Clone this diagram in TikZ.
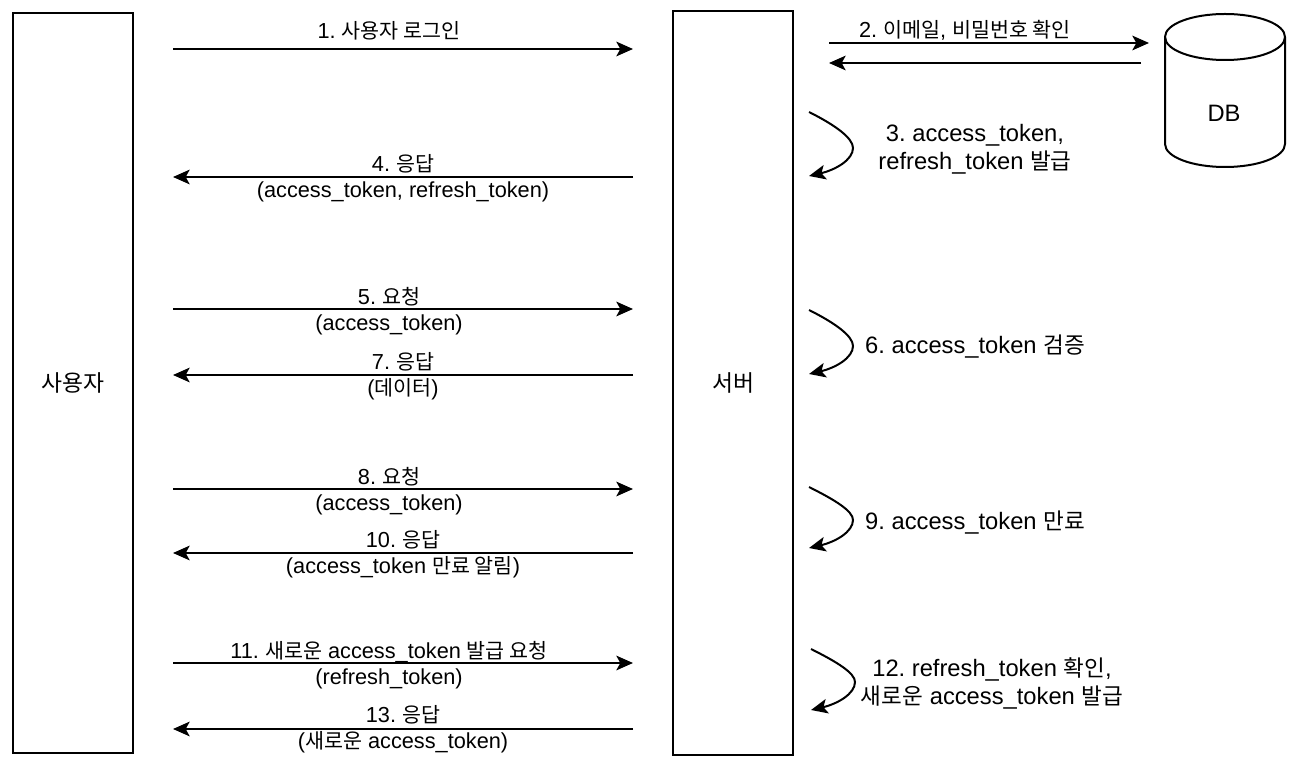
\documentclass[tikz,border=0pt]{standalone}
\usepackage{fontspec}
\setmainfont{Liberation Sans}
\newfontfamily\kr[Scale=0.95]{Noto Sans CJK KR}
\usetikzlibrary{arrows.meta}
\frenchspacing
\tikzstyle{box} = [draw, line width=1.5pt, minimum width=90pt, inner sep=0pt]
\tikzstyle{label} = [align=center, inner sep=0pt, font=\fontsize{16.3}{19.5}\selectfont]
\tikzstyle{label2} = [align=center, inner sep=0pt, font=\fontsize{17.8}{21}\selectfont]
\tikzstyle{link} = [line width=1.5pt, -{Stealth[length=12.5pt,width=11pt,inset=3pt]}]

\begin{document}
\begin{tikzpicture}[x=0.75pt,y=-0.75pt]
\useasboundingbox (0,0) rectangle (1296,766);
\node [box, minimum height=555pt, font=\fontsize{18}{21}\selectfont] (user) at (73,383) {\kr 사용자};
\node [box, minimum height=558pt, font=\fontsize{18}{21}\selectfont] (server) at (733,383) {\kr 서버};
% database
\draw [line width=1.5pt] (1165,37) .. controls (1165,24) and (1192,14) .. (1225,14) .. controls (1258,14) and (1285,24) .. (1285,37) -- (1285,144) .. controls (1285,157) and (1258,167) .. (1225,167) .. controls (1192,167) and (1165,157) .. (1165,144) -- cycle;
\draw [line width=1.5pt] (1165,37) .. controls (1165,50) and (1192,60) .. (1225,60) .. controls (1258,60) and (1285,50) .. (1285,37);
\node [label2] (db) at (1224,113) {DB};
% arrow ends
\coordinate (u1) at (173,49);
\coordinate (s1) at (633,49);
\coordinate (s4) at (633,177);
\coordinate (u4) at (173,177);
\coordinate (u5) at (173,309);
\coordinate (s5) at (633,309);
\coordinate (s7) at (633,375);
\coordinate (u7) at (173,375);
\coordinate (u8) at (173,489);
\coordinate (s8) at (633,489);
\coordinate (s10) at (633,553);
\coordinate (u10) at (173,553);
\coordinate (u11) at (173,663);
\coordinate (s11) at (633,663);
\coordinate (s13) at (633,729);
\coordinate (u13) at (173,729);
\coordinate (a2) at (829,43);
\coordinate (b2) at (1149,43);
\coordinate (b2r) at (1141,63);
\coordinate (a2r) at (829,63);
\draw [link] (u1) -- (s1);
\draw [link] (s4) -- (u4);
\draw [link] (u5) -- (s5);
\draw [link] (s7) -- (u7);
\draw [link] (u8) -- (s8);
\draw [link] (s10) -- (u10);
\draw [link] (u11) -- (s11);
\draw [link] (s13) -- (u13);
\draw [link] (a2) -- (b2);
\draw [link] (b2r) -- (a2r);
% server self arrows
\coordinate (c3a) at (809,112);
\coordinate (c3b) at (809,176);
\coordinate (c6a) at (809,310);
\coordinate (c6b) at (809,374);
\coordinate (c9a) at (809,487);
\coordinate (c9b) at (809,548);
\coordinate (c12a) at (811,649);
\coordinate (c12b) at (811,710);
\draw [link] (c3a) .. controls (835,125) and (853,138) .. (853,148) .. controls (853,160) and (835,170) .. (c3b);
\draw [link] (c6a) .. controls (835,323) and (853,336) .. (853,346) .. controls (853,358) and (835,368) .. (c6b);
\draw [link] (c9a) .. controls (835,500) and (853,511) .. (853,520) .. controls (853,532) and (835,542) .. (c9b);
\draw [link] (c12a) .. controls (837,662) and (855,673) .. (855,682) .. controls (855,694) and (837,704) .. (c12b);
% labels
\node [label] (t1) at (389,30.5) {1. {\kr 사용자 로그인}};
\node [label] (t2) at (965,30.5) {2. {\kr 이메일}, {\kr 비밀번호 확인}};
\node [label2] (t3) at (975,149) {3. access\_token,\\refresh\_token {\kr 발급}};
\node [label] (t4) at (403,178) {4. {\kr 응답}\\(access\_token, refresh\_token)};
\node [label] (t5) at (389,311) {5. {\kr 요청}\\(access\_token)};
\node [label2] (t6) at (975,347) {6. access\_token {\kr 검증}};
\node [label] (t7) at (403,376) {7. {\kr 응답}\\({\kr 데이터})};
\node [label] (t8) at (389,491) {8. {\kr 요청}\\(access\_token)};
\node [label2] (t9) at (975,523) {9. access\_token {\kr 만료}};
\node [label] (t10) at (403,554) {10. {\kr 응답}\\(access\_token {\kr 만료 알림})};
\node [label] (t11) at (389,665) {11. {\kr 새로운} access\_token {\kr 발급 요청}\\(refresh\_token)};
\node [label2] (t12) at (992,683.5) {12. refresh\_token {\kr 확인},\\{\kr 새로운} access\_token {\kr 발급}};
\node [label] (t13) at (403,729.5) {13. {\kr 응답}\\({\kr 새로운} access\_token)};
\end{tikzpicture}
\end{document}
